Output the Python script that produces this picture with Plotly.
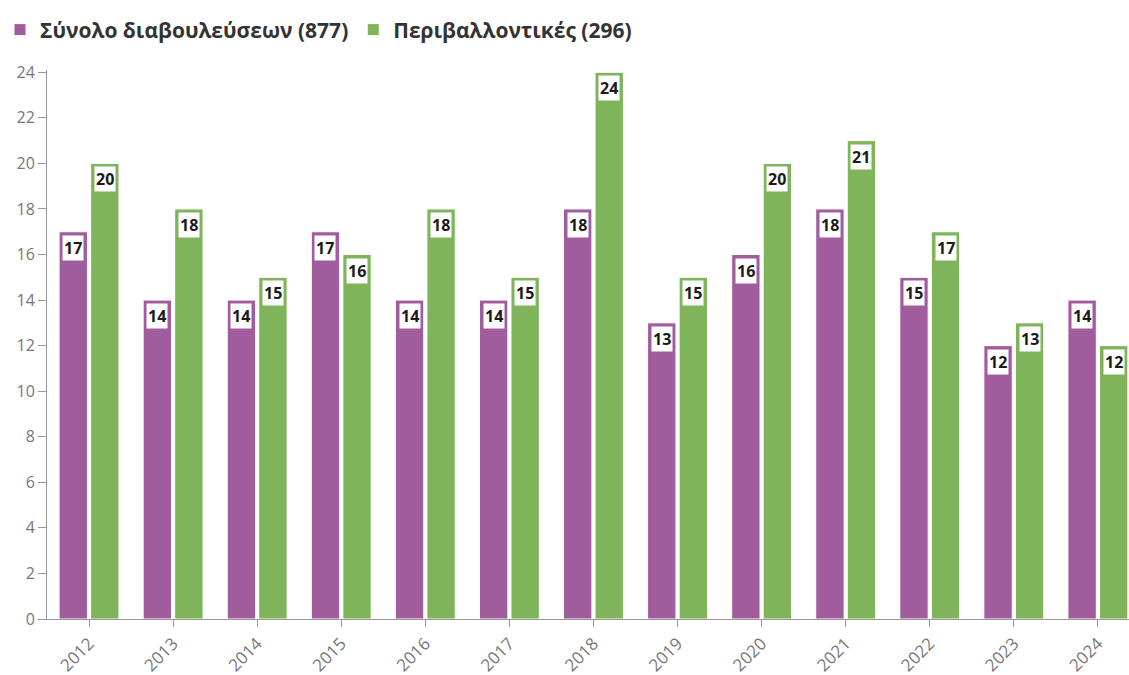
import plotly.graph_objects as go

years = ["2012", "2013", "2014", "2015", "2016", "2017", "2018", "2019", "2020", "2021", "2022", "2023", "2024"]
total = [17, 14, 14, 17, 14, 14, 18, 13, 16, 18, 15, 12, 14]
env = [20, 18, 15, 16, 18, 15, 24, 15, 20, 21, 17, 13, 12]
names = ["Σύνολο διαβουλεύσεων (877)", "Περιβαλλοντικές (296)"]
colors = ["#A15C9E", "#7FB45A"]
y_ticks = list(range(0, 25, 2))

font_family = "Open Sans, Noto Sans, sans-serif"

fig = go.Figure()
for vals, name, col in zip([total, env], names, colors):
    fig.add_trace(go.Bar(
        x=years, y=vals, name=name,
        marker=dict(color=col, line=dict(color="white", width=1)),
        hoverinfo="x+y",
    ))

annotations = []
for vals, shift in [(total, -15.8), (env, 15.8)]:
    for i, v in enumerate(vals):
        annotations.append(dict(
            x=i, y=v, xref="x", yref="y", text=f"<b>{v}</b>",
            showarrow=False, xshift=shift, yshift=-16, yanchor="middle",
            bgcolor="white", borderpad=1,
            font=dict(family=font_family, size=16, color="#1a1a1a"),
        ))

fig.update_layout(
    width=1129, height=675,
    margin=dict(l=47, r=0, t=70, b=56),
    paper_bgcolor="white", plot_bgcolor="white",
    barmode="group", bargap=0.25, bargroupgap=0.1,
    font=dict(family=font_family, color="#666666"),
    legend=dict(
        orientation="h", xref="container", yref="container",
        x=-0.011, y=0.986, xanchor="left", yanchor="top",
        font=dict(size=21, color="#333333", family=font_family, weight="bold"),
        itemwidth=30, tracegroupgap=0,
    ),
    annotations=annotations,
    showlegend=True,
)
fig.update_xaxes(
    type="category", range=[-0.5, 12.37], automargin=False,
    showline=True, linecolor="#999999", linewidth=1,
    ticks="outside", ticklen=7, tickcolor="#999999",
    tickangle=-45, tickfont=dict(size=17, color="#777777"),
    showgrid=False,
)
fig.update_yaxes(
    range=[0, 24.1], tickvals=y_ticks, automargin=False,
    showline=True, linecolor="#999999", linewidth=1,
    ticks="outside", ticklen=8, tickcolor="#999999",
    tickfont=dict(size=16, color="#777777"),
    showgrid=False, zeroline=False,
)
fig.write_html("out.html", config={"displayModeBar": False},
               post_script="document.body.style.margin='0';")
